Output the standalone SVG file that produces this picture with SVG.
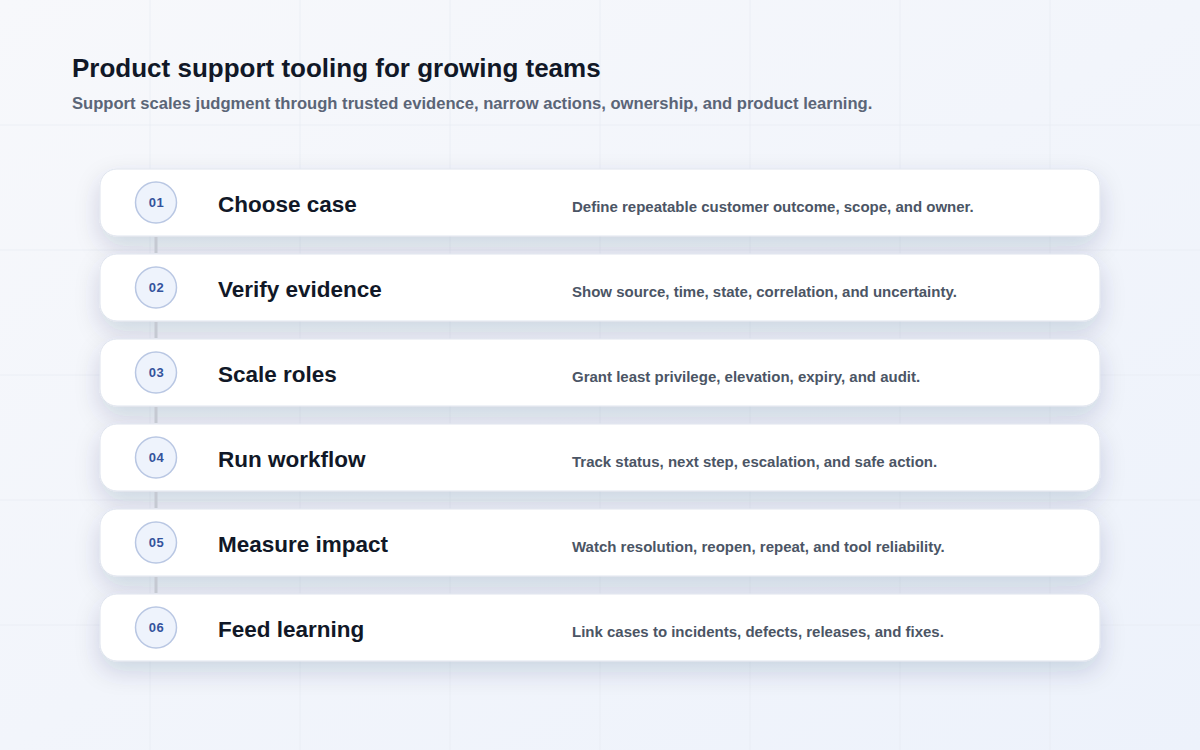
<svg xmlns="http://www.w3.org/2000/svg" width="1200" height="750" viewBox="0 0 1200 750">
  <defs>
    <linearGradient id="bg" x1="0" y1="0" x2="1" y2="1">
      <stop offset="0" stop-color="#f7f8fb"/>
      <stop offset="1" stop-color="#edf2fb"/>
    </linearGradient>
    <filter id="shadow" x="-10%" y="-40%" width="120%" height="190%">
      <feDropShadow dx="0" dy="10" stdDeviation="12" flood-color="#1e2b55" flood-opacity="0.16"/>
    </filter>
  </defs>
  <style>
    .title { font-family: "Liberation Sans", Arial, Helvetica, sans-serif; font-weight: 700; font-size: 26px; fill: #111827; }
    .subtitle { font-family: "Liberation Sans", Arial, Helvetica, sans-serif; font-weight: 700; font-size: 16.6px; fill: #5b6577; }
    .card { fill: #ffffff; stroke: #dfe4ee; stroke-width: 1; filter: url(#shadow); }
    .badge { fill: #eef3fc; stroke: #b9c7e3; stroke-width: 1.5; }
    .num { font-family: "Liberation Sans", Arial, Helvetica, sans-serif; font-weight: 700; font-size: 13px; fill: #34539c; text-anchor: middle; letter-spacing: 0.6px; }
    .label { font-family: "Liberation Sans", Arial, Helvetica, sans-serif; font-weight: 700; font-size: 22.5px; fill: #111827; }
    .desc { font-family: "Liberation Sans", Arial, Helvetica, sans-serif; font-weight: 700; font-size: 15px; fill: #4b5565; }
    .grid { stroke: #e7ebf3; stroke-width: 1; opacity: 0.7; }
    .conn { stroke: #c5c9d2; stroke-width: 3; }
  </style>
  <rect x="0" y="0" width="1200" height="750" fill="url(#bg)"/>
  <g id="grid">
    <line class="grid" x1="150" y1="0" x2="150" y2="750"/>
    <line class="grid" x1="300" y1="0" x2="300" y2="750"/>
    <line class="grid" x1="450" y1="0" x2="450" y2="750"/>
    <line class="grid" x1="600" y1="0" x2="600" y2="750"/>
    <line class="grid" x1="750" y1="0" x2="750" y2="750"/>
    <line class="grid" x1="900" y1="0" x2="900" y2="750"/>
    <line class="grid" x1="1050" y1="0" x2="1050" y2="750"/>
    <line class="grid" x1="0" y1="125" x2="1200" y2="125"/>
    <line class="grid" x1="0" y1="250" x2="1200" y2="250"/>
    <line class="grid" x1="0" y1="375" x2="1200" y2="375"/>
    <line class="grid" x1="0" y1="500" x2="1200" y2="500"/>
    <line class="grid" x1="0" y1="625" x2="1200" y2="625"/>
  </g>
  <g id="header">
    <text class="title" x="72" y="77">Product support tooling for growing teams</text>
    <text class="subtitle" x="72" y="109">Support scales judgment through trusted evidence, narrow actions, ownership, and product learning.</text>
  </g>
  <g id="step-01">
    <rect class="card" x="100" y="169" width="1000" height="67" rx="17"/>
    <circle class="badge" cx="156" cy="202.5" r="20.5"/>
    <text class="num" x="156.5" y="207">01</text>
    <text class="label" x="218" y="212">Choose case</text>
    <text class="desc" x="572" y="212">Define repeatable customer outcome, scope, and owner.</text>
  </g>
  <g id="step-02">
    <rect class="card" x="100" y="254" width="1000" height="67" rx="17"/>
    <circle class="badge" cx="156" cy="287.5" r="20.5"/>
    <text class="num" x="156.5" y="292">02</text>
    <text class="label" x="218" y="297">Verify evidence</text>
    <text class="desc" x="572" y="297">Show source, time, state, correlation, and uncertainty.</text>
  </g>
  <g id="step-03">
    <rect class="card" x="100" y="339" width="1000" height="67" rx="17"/>
    <circle class="badge" cx="156" cy="372.5" r="20.5"/>
    <text class="num" x="156.5" y="377">03</text>
    <text class="label" x="218" y="382">Scale roles</text>
    <text class="desc" x="572" y="382">Grant least privilege, elevation, expiry, and audit.</text>
  </g>
  <g id="step-04">
    <rect class="card" x="100" y="424" width="1000" height="67" rx="17"/>
    <circle class="badge" cx="156" cy="457.5" r="20.5"/>
    <text class="num" x="156.5" y="462">04</text>
    <text class="label" x="218" y="467">Run workflow</text>
    <text class="desc" x="572" y="467">Track status, next step, escalation, and safe action.</text>
  </g>
  <g id="step-05">
    <rect class="card" x="100" y="509" width="1000" height="67" rx="17"/>
    <circle class="badge" cx="156" cy="542.5" r="20.5"/>
    <text class="num" x="156.5" y="547">05</text>
    <text class="label" x="218" y="552">Measure impact</text>
    <text class="desc" x="572" y="552">Watch resolution, reopen, repeat, and tool reliability.</text>
  </g>
  <g id="step-06">
    <rect class="card" x="100" y="594" width="1000" height="67" rx="17"/>
    <circle class="badge" cx="156" cy="627.5" r="20.5"/>
    <text class="num" x="156.5" y="632">06</text>
    <text class="label" x="218" y="637">Feed learning</text>
    <text class="desc" x="572" y="637">Link cases to incidents, defects, releases, and fixes.</text>
  </g>
  <g id="connectors">
    <line class="conn" x1="156" y1="237" x2="156" y2="253"/>
    <line class="conn" x1="156" y1="322" x2="156" y2="338"/>
    <line class="conn" x1="156" y1="407" x2="156" y2="423"/>
    <line class="conn" x1="156" y1="492" x2="156" y2="508"/>
    <line class="conn" x1="156" y1="577" x2="156" y2="593"/>
  </g>
</svg>
